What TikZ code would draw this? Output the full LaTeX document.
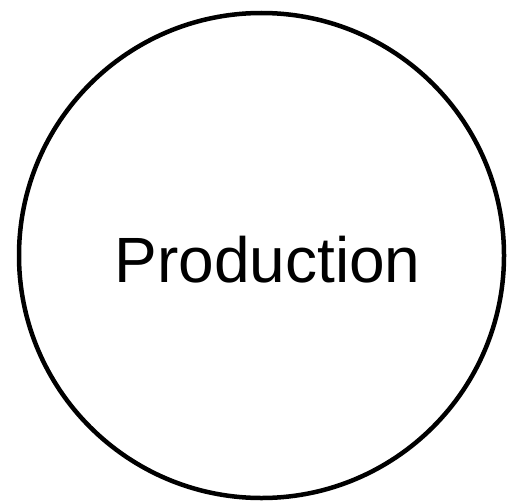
\documentclass[tikz,border=0pt]{standalone}
\usepackage{fontspec}
\setmainfont{Liberation Sans}
\begin{document}
\begin{tikzpicture}[x=1pt,y=-1pt,
  procircle/.style={draw=black,line width=4.5pt,circle,minimum size=485pt,inner sep=0pt},
  prolabel/.style={font=\fontsize{64}{64}\selectfont,inner sep=0pt,anchor=base}]
\useasboundingbox (0,0) rectangle (508,503);
\node[procircle] (c) at (261.5,255.5) {};
\node[prolabel] (t) at (267.5,282) {Production};
\end{tikzpicture}
\end{document}
